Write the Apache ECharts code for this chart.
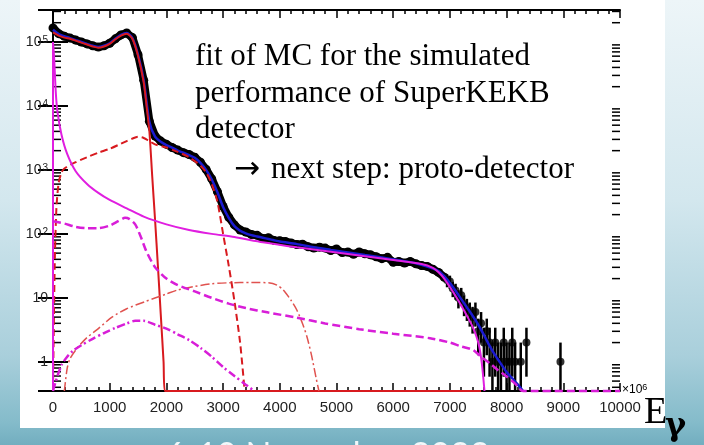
<!DOCTYPE html>
<html><head><meta charset="utf-8">
<script src="https://cdn.jsdelivr.net/npm/echarts@6/dist/echarts.min.js"></script>
<style>html,body{margin:0;padding:0;overflow:hidden}#c{width:704px;height:445px}</style>
</head><body><div id="c"></div>
<script>
// ---------- axis ranges ----------
const yMin = 0.35, yMax = 316000;
const xMin = 0, xMax = 10000, xStep = 1000;
const yDecades = [0.1, 1, 10, 100, 1000, 10000, 100000];
const yMinorMults = [2, 3, 4, 5, 6, 7, 8, 9];

// ---------- MC "data" points (black) ----------
const dataE = [0,100,200,300,400,500,600,700,800,900,1000,1100,1200,1300,1400,1500,1600,1700,1800,1900,
  2000,2100,2200,2300,2400,2500,2600,2700,2800,2900,3000,3100,3200,3300,3400,3500,3600,3700,3800,3900,
  4000,4100,4200,4300,4400,4500,4600,4700,4800,4900,5000,5100,5200,5300,5400,5500,5600,5700,5800,5900,
  6000,6100,6200,6300,6400,6500,6600,6700,6800,6900];
const dataN = [166000,135000,123000,115000,107000,100000,93300,87100,83200,87100,95500,112000,129000,138000,117000,63100,25100,5750,3390,2820,
  2510,2240,2040,1860,1740,1580,1320,1020,724,457,269,182,138,115,107,98,95,85,87,79,
  78,76,72,68,69,63,60,62,60,55,58,51,52,48,52,49,47,44,41,43,
  36,37,35,37,34,32,31,28,25,21];
// tail bins (with Poisson error bars)
const tailE = [6950,7000,7050,7100,7150,7200,7250,7300,7350,7400,7450,7500,7550,7600,7650,7700,7750,7800,7850,7900,7950,8000,8050,8100,8150,8250,8350,8950];
const tailN = [19,18,14,13,10,11,8,7,6,5,6,3,4,2,3,2,1,2,1,1,2,1,1,2,1,1,2,1];

// ---------- fit curves ----------
const totalFit = [[0,155000],[100,133000],[200,123000],[300,115000],[400,107000],[500,100000],[600,93300],[700,87100],[800,83200],[900,87100],
  [1000,95500],[1100,112000],[1200,129000],[1300,138000],[1400,115000],[1500,63100],[1600,25100],[1700,5620],[1800,3310],[1900,2750],
  [2000,2450],[2100,2240],[2200,2000],[2300,1860],[2400,1700],[2500,1550],[2600,1290],[2700,1000],[2800,708],[2900,447],
  [3000,263],[3100,178],[3200,132],[3300,112],[3400,102],[3500,95.5],[3600,91.2],[3700,87.1],[3800,83.2],[3900,79.4],
  [4000,75.9],[4300,69.2],[4600,61.7],[4900,56.2],[5200,51.3],[5500,46.8],[5800,42.7],[6100,38.9],[6400,34.7],[6600,30.9],
  [6800,26.3],[6900,21.9],[7000,17.0],[7100,12.9],[7200,9.55],[7300,7.08],[7400,5.25],[7500,3.80],[7600,2.63],[7700,1.78],
  [7800,1.26],[7900,0.93],[8000,0.69],[8100,0.55],[8200,0.44],[8290,0.35]];
const redSolid = [[0,141000],[100,126000],[200,117000],[300,112000],[400,105000],[500,97700],[600,91200],[700,85100],[800,81300],[900,85100],
  [1000,93300],[1100,110000],[1200,126000],[1300,135000],[1400,112000],[1500,60300],[1600,23400],[1650,10000],[1700,3980],[1750,794],
  [1800,166],[1850,31.6],[1900,5.62],[1950,1.0],[1975,0.35],[7550,0.35]];
const redDashed = [[0,0.35],[30,31.6],[60,251],[100,631],[150,912],[200,1050],[400,1320],[600,1580],[800,1860],[1000,2140],
  [1200,2570],[1400,3090],[1500,3310],[1600,3160],[1700,2820],[1800,2510],[2000,2240],[2200,1910],[2400,1580],[2600,1170],
  [2700,912],[2800,603],[2900,316],[3000,100],[3100,31.6],[3200,8.9],[3300,2.0],[3380,0.35]];
const redDashDot = [[200,0.35],[250,0.79],[300,1.12],[440,1.70],[600,2.40],[800,3.31],[1040,5.0],[1300,6.76],[1620,8.71],[2000,11.5],
  [2200,13.3],[2500,15.1],[2800,16.6],[3100,17.2],[3500,17.4],[3800,17.2],[3950,15.8],[4060,13.3],[4200,9.1],[4300,6.46],
  [4400,3.98],[4480,2.45],[4560,1.26],[4640,0.56],[4690,0.35]];
const magSolid = [[0,0.35],[0,100000],[20,56200],[50,15800],[80,7940],[150,3550],[250,1780],[400,955],[600,603],[800,437],
  [1000,339],[1300,251],[1600,186],[2000,141],[2400,115],[2800,100],[3200,89.1],[3700,74.1],[4300,61.7],[4900,52.5],
  [5500,44.7],[6100,38.0],[6500,33.9],[6700,29.5],[6800,25.1],[6900,20.0],[7000,14.8],[7100,10.7],[7200,7.59],[7300,5.25],
  [7400,3.55],[7500,2.0],[7560,1.0],[7610,0.35]];
const magDashed = [[0,158],[200,145],[400,129],[600,123],[800,123],[1000,135],[1150,158],[1270,178],[1350,170],[1450,141],
  [1550,89.1],[1650,52.5],[1800,30.2],[2000,20.0],[2200,15.8],[2500,12.6],[2800,10],[3100,8.13],[3400,6.92],[3800,5.89],
  [4300,4.90],[4800,3.98],[5400,3.24],[6000,2.75],[6650,2.34],[7000,2.0],[7200,1.74],[7400,1.55],[7550,1.20],[7700,0.955],
  [7850,0.741],[8000,0.589],[8150,0.457],[8290,0.35],[10000,0.35]];
const magDashDot = [[0,0.35],[50,0.50],[150,0.89],[250,1.20],[350,1.48],[500,1.82],[700,2.29],[900,2.82],[1100,3.39],[1300,3.98],
  [1450,4.37],[1600,4.37],[1800,3.80],[2000,3.31],[2200,2.69],[2400,2.19],[2600,1.66],[2800,1.20],[3000,0.83],[3200,0.60],
  [3400,0.44],[3550,0.35]];

// ---------- derived ----------
const dataPts = dataE.map((e, i) => [e, dataN[i]]);
const tailPts = tailE.map((e, i) => [e, tailN[i]]);
const errBars = tailE.map((e, i) => [e, Math.max(tailN[i] - Math.sqrt(tailN[i]), yMin), tailN[i] + Math.sqrt(tailN[i])]);
const minorTicks = [];
yDecades.forEach(d => yMinorMults.forEach(m => { const v = d * m; if (v > yMin && v < yMax) minorTicks.push([0, v]); }));

const chart = echarts.init(document.getElementById('c'), null, {renderer: 'canvas'});
const lab = {fontFamily: 'Liberation Sans', color: '#222'};
function yFmt(v) {
  const l = Math.log10(v), k = Math.round(l);
  if (Math.abs(l - k) > 1e-6) return '';
  if (k === 0) return '{b|1}';
  if (k === 1) return '{b|10}';
  return '{b|10}{s|' + k + '}';
}
function line(name, data, color, width, type, z, extra) {
  return Object.assign({name, type: 'line', data, symbol: 'none', smooth: 0.25, z,
    lineStyle: {color, width, type}, silent: true}, extra || {});
}
const serif = '"Liberation Serif"';
const option = {
  animation: false,
  backgroundColor: new echarts.graphic.LinearGradient(0, 0, 0, 1, [
    {offset: 0, color: '#edf5f8'}, {offset: 0.45, color: '#d3e7ee'}, {offset: 0.8, color: '#a9cfdb'},
    {offset: 0.95, color: '#84bbca'}, {offset: 1, color: '#72aebf'}]),
  grid: {left: 53, right: 84, top: 10, bottom: 54, containLabel: false},
  xAxis: [{
    type: 'value', min: xMin, max: xMax, interval: xStep,
    axisLine: {lineStyle: {color: '#000', width: 2}},
    axisTick: {inside: true, length: 8, lineStyle: {color: '#000', width: 1.5}},
    minorTick: {show: true, splitNumber: 5, length: 4, lineStyle: {color: '#000', width: 1.5}},
    splitLine: {show: false},
    axisLabel: Object.assign({fontSize: 15, margin: 9, formatter: v => String(v)}, lab)
  }, {
    type: 'value', position: 'top', min: xMin, max: xMax, interval: xStep,
    axisLine: {lineStyle: {color: '#000', width: 2}},
    axisTick: {inside: true, length: 8, lineStyle: {color: '#000', width: 1.5}},
    minorTick: {show: true, splitNumber: 5, length: 4, lineStyle: {color: '#000', width: 1.5}},
    splitLine: {show: false}, axisLabel: {show: false}
  }],
  yAxis: [{
    type: 'log', logBase: 10, min: yMin, max: yMax,
    axisLine: {lineStyle: {color: '#000', width: 2}},
    axisTick: {inside: true, length: 15, lineStyle: {color: '#000', width: 2}},
    splitLine: {show: false},
    axisLabel: {margin: 5, formatter: yFmt, showMinLabel: false, showMaxLabel: false,
      rich: {b: Object.assign({fontSize: 14}, lab), s: Object.assign({fontSize: 10, verticalAlign: 'top', padding: [0, 0, 4, 1]}, lab)}}
  }, {
    type: 'log', logBase: 10, min: yMin, max: yMax, position: 'right',
    axisLine: {lineStyle: {color: '#000', width: 2}},
    axisTick: {inside: true, length: 15, lineStyle: {color: '#000', width: 2}},
    splitLine: {show: false}, axisLabel: {show: false}
  }],
  series: [
    {name: 'yMinorTicks', type: 'custom', data: minorTicks, silent: true, z: 1, clip: false,
      renderItem: function (params, api) {
        const y = api.coord([0, api.value(1)])[1];
        const x0 = params.coordSys.x, x1 = x0 + params.coordSys.width;
        const st = {stroke: '#000', lineWidth: 1.5};
        return {type: 'group', children: [
          {type: 'line', shape: {x1: x0, y1: y, x2: x0 + 8, y2: y}, style: st},
          {type: 'line', shape: {x1: x1 - 8, y1: y, x2: x1, y2: y}, style: st}]};
      }},
    {name: 'MC', type: 'line', data: dataPts, symbol: 'circle', symbolSize: 9, z: 3, silent: true,
      itemStyle: {color: '#000'}, lineStyle: {color: '#000', width: 8}},
    {name: 'errBars', type: 'custom', data: errBars, silent: true, z: 3, clip: false, encode: {x: 0, y: [1, 2]},
      renderItem: function (params, api) {
        const a = api.coord([api.value(0), api.value(1)]), b = api.coord([api.value(0), api.value(2)]);
        return {type: 'line', shape: {x1: a[0], y1: a[1], x2: b[0], y2: b[1]}, style: {stroke: '#000', lineWidth: 2.5}};
      }},
    {name: 'MCtail', type: 'scatter', data: tailPts, symbol: 'circle', symbolSize: 8, z: 3, silent: true, itemStyle: {color: '#000'}},
    line('total', totalFit, '#1a1ad0', 2.5, 'solid', 4),
    line('comp1', redSolid, '#d81a1f', 2, 'solid', 5, {clip: false}),
    line('comp2', redDashed, '#d81a1f', 2, [7, 4], 5),
    line('comp3', redDashDot, '#e0524f', 1.5, [9, 3, 2, 3], 5),
    line('bkg1', magSolid, '#e01ee0', 2, 'solid', 6, {clip: false}),
    line('bkg2', magDashed, '#d81ed8', 2.5, [8, 4], 6, {clip: false}),
    line('bkg3', magDashDot, '#d81ed8', 2.5, [8, 3, 2, 3], 6)
  ],
  graphic: [
    {type: 'rect', z: -10, shape: {x: 20, y: 0, width: 645, height: 428}, style: {fill: '#ffffff'}},
    {type: 'text', z: 100, x: 195, y: 57, style: {text: 'fit of MC for the simulated', font: '31px ' + serif, fill: '#000', verticalAlign: 'middle'}},
    {type: 'text', z: 100, x: 195, y: 94, style: {text: 'performance of SuperKEKB', font: '31px ' + serif, fill: '#000', verticalAlign: 'middle'}},
    {type: 'text', z: 100, x: 195, y: 130, style: {text: 'detector', font: '31px ' + serif, fill: '#000', verticalAlign: 'middle'}},
    {type: 'text', z: 100, x: 234, y: 170, style: {text: '{a|\u2192}{b|next step: proto-detector}', verticalAlign: 'middle',
      rich: {a: {fontSize: 31, fontFamily: 'DejaVu Sans', color: '#000', padding: [0, 11, 0, 0]}, b: {fontSize: 31, fontFamily: 'Liberation Serif', color: '#000'}}}},
    {type: 'text', z: 100, x: 622, y: 390, style: {text: '{a|\u00d710}{b|6}', verticalAlign: 'middle',
      rich: {a: {fontSize: 12, fontFamily: 'Liberation Sans', color: '#222'}, b: {fontSize: 9, fontFamily: 'Liberation Sans', color: '#222', verticalAlign: 'top', padding: [0, 0, 4, 0]}}}},
    {type: 'text', z: 100, x: 644, y: 413, style: {text: 'E', font: '38px ' + serif, fill: '#000', verticalAlign: 'middle'}},
    {type: 'text', z: 100, x: 665, y: 427, style: {text: '\u03b3', font: 'bold 32px "DejaVu Serif"', fill: '#000', verticalAlign: 'middle'}},
    {type: 'text', z: 100, x: 165, y: 456, style: {text: '6-10 November 2022', font: '34px Lato', fill: '#f2f8fa', verticalAlign: 'middle'}}
  ]
};
chart.setOption(option);
</script>
</body></html>
